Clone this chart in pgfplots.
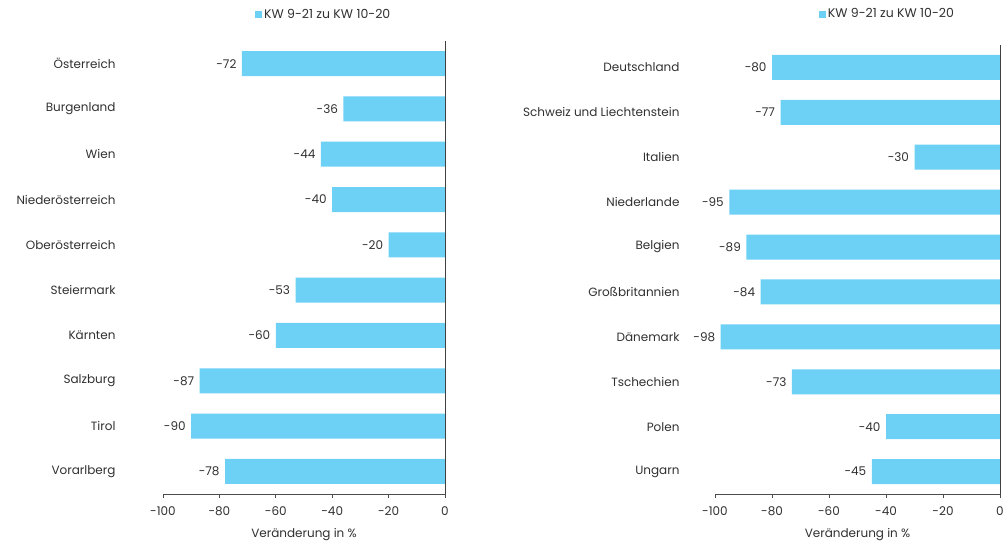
\documentclass[border=0pt]{standalone}
\usepackage{fontspec}
\setmainfont{Poppins}
\usepackage{pgfplots}
\pgfplotsset{compat=1.18}
\definecolor{barblue}{HTML}{6DD0F5}
\definecolor{txt}{HTML}{303030}
\pgfplotsset{
 mybar/.style={
  scale only axis, xbar, bar width=25pt, y dir=reverse, clip=false,
  xmin=-100, xmax=0, ymin=-0.5, ymax=9.5,
  axis x line*=bottom, axis y line*=left,
  y axis line style={draw=none},
  x axis line style={draw=black!70, line width=0.8pt},
  xtick={-100,-80,...,0}, tick align=outside, major tick length=4pt,
  major x tick style={draw=black!70, line width=0.8pt},
  major y tick style={draw=none},
  ytick={0,...,9},
  font=\fontsize{12}{14}\selectfont,
  tick label style={text=txt, font=\fontsize{12}{14}\selectfont},
  xticklabel style={yshift=-5pt},
  /pgf/number format/assume math mode=true,
  xlabel={Veränderung in \%},
  xlabel style={text=txt, yshift=-6pt},
  point meta=x,
  nodes near coords,
  nodes near coords style={anchor=east, text=txt, xshift=-2pt, font=\fontsize{12}{14}\selectfont, /pgf/number format/assume math mode=true},
  legend style={draw=none, fill=none, font=\fontsize{12.5}{14}\selectfont, text=txt, anchor=center, inner sep=0pt},
  legend image code/.code={\fill[barblue] (0pt,-3.5pt) rectangle (7pt,3.5pt);},
 }
}
\begin{document}
\begin{tikzpicture}
\useasboundingbox (0pt,0pt) rectangle (1003pt,546pt);
\begin{axis}[mybar, at={(163pt,52pt)}, anchor=south west, width=282pt, height=453pt,
  yticklabels={Österreich,Burgenland,Wien,Niederösterreich,Oberösterreich,Steiermark,Kärnten,Salzburg,Tirol,Vorarlberg},
  yticklabel style={xshift=-40pt},
  legend style={at={(0.57,1.058)}}]
\addplot[fill=barblue, draw=none] coordinates {(-72,0) (-36,1) (-44,2) (-40,3) (-20,4) (-53,5) (-60,6) (-87,7) (-90,8) (-78,9)};
\addlegendentry{KW 9-21 zu KW 10-20}
\draw[black!75, line width=1pt] (axis cs:0,-0.5) -- (axis cs:0,9.5);
\end{axis}
\begin{axis}[mybar, at={(715pt,52pt)}, anchor=south west, width=285pt, height=449pt,
  yticklabels={Deutschland,Schweiz und Liechtenstein,Italien,Niederlande,Belgien,Großbritannien,Dänemark,Tschechien,Polen,Ungarn},
  yticklabel style={xshift=-28pt},
  legend style={at={(0.605,1.069)}}]
\addplot[fill=barblue, draw=none] coordinates {(-80,0) (-77,1) (-30,2) (-95,3) (-89,4) (-84,5) (-98,6) (-73,7) (-40,8) (-45,9)};
\addlegendentry{KW 9-21 zu KW 10-20}
\draw[black!75, line width=1pt] (axis cs:0,-0.5) -- (axis cs:0,9.5);
\end{axis}
\end{tikzpicture}
\end{document}
